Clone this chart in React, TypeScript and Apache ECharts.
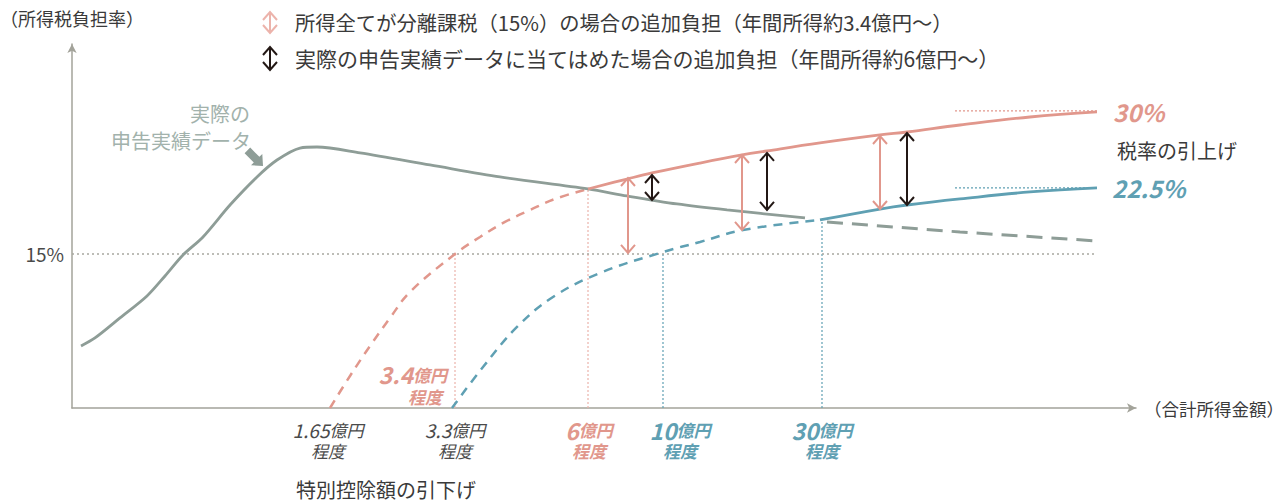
import React, { useEffect, useRef } from "react";
import * as echarts from "echarts";

const FONT = '"Noto Sans CJK JP", "Noto Sans", sans-serif';
const RED = "#e1978c";
const RED_LIGHT = "#ecb3ab";
const BLUE = "#5fa0b3";
const GRAY = "#8e9d97";
const AXIS = "#a3a39a";
const BLACK = "#231815";
const TEXT = "#3a3a3a";

// x: schematic income position (px-like units from origin), y: tax burden (%-like units)
const grayActual: [number, number][] = [
  [9, 6.04], [23, 6.82], [48, 8.77], [75, 10.91], [93, 12.86], [111, 14.9], [131, 16.66],
  [158, 19.77], [185, 22.5], [205, 24.15], [228, 25.32], [245, 25.42], [288, 24.84],
  [358, 23.67], [428, 22.5], [516, 21.33], [555, 20.65], [605, 19.87], [655, 19.29], [733, 18.51],
];
const grayExtrap: [number, number][] = [[755, 18.12], [888, 17.14], [1025, 16.27]];
const redDashed: [number, number][] = [
  [258, 0], [278, 3.12], [298, 6.04], [318, 8.77], [338, 11.3], [383, 15.0],
  [408, 16.66], [433, 18.12], [458, 19.28], [483, 20.36], [516, 21.33],
];
const redSolid: [number, number][] = [
  [516, 21.33], [555, 22.3], [580, 22.89], [628, 23.86], [670, 24.64], [695, 25.03],
  [748, 25.81], [808, 26.59], [835, 26.88], [888, 27.56], [958, 28.34], [1025, 28.83],
];
const blueDashed: [number, number][] = [
  [380, 0], [411, 3.99], [445, 7.89], [481, 10.81], [528, 13.15], [591, 15.19],
  [628, 16.17], [671, 17.34], [748, 18.31],
];
const blueSolid: [number, number][] = [
  [748, 18.31], [808, 19.38], [835, 19.77], [888, 20.36], [958, 21.04], [1025, 21.43],
];
const refLine15: [number, number][] = [[0, 15], [1025, 15]];
const refRed30: [number, number][] = [[883, 28.93], [1025, 28.93]];
const refBlue225: [number, number][] = [[883, 21.43], [1025, 21.43]];

// vertical guides: [x, top, colorIndex 0=red 1=blue]
const guides: [number, number, number][] = [
  [383, 15.0, 0], [516, 21.33, 0], [591, 15.19, 1], [750, 18.31, 1],
];
// double arrows: [x, top, bottom, colorIndex 0=red 1=black]
const arrows: [number, number, number, number][] = [
  [556, 22.4, 15.1, 0], [670, 24.64, 17.34, 0], [808, 26.49, 19.38, 0],
  [580, 22.69, 20.26, 1], [695, 24.84, 19.29, 1], [835, 26.78, 19.77, 1],
];

const xLabelPos = [256, 383, 517, 608, 750];
const xLabelNum = ["1.65", "3.3", "6", "10", "30"];
const xLabelColor = ["g", "g", "r", "b", "b"];

const yTick = 15;

function arrowGroup(x: number, y1: number, y2: number, color: string, lw: number) {
  const hw = 7, hh = 8;
  return {
    type: "group",
    children: [
      { type: "line", shape: { x1: x, y1: y1, x2: x, y2: y2 }, style: { stroke: color, lineWidth: lw } },
      { type: "polyline", shape: { points: [[x - hw, y1 + hh], [x, y1], [x + hw, y1 + hh]] }, style: { stroke: color, lineWidth: lw, fill: null } },
      { type: "polyline", shape: { points: [[x - hw, y2 - hh], [x, y2], [x + hw, y2 - hh]] }, style: { stroke: color, lineWidth: lw, fill: null } },
    ],
  };
}

function txt(text: string, x: number, y: number, size: number, fill: string, align = "left", extra: any = {}) {
  return {
    type: "text",
    x,
    y,
    style: {
      text,
      fill,
      font: `${extra.fontStyle || "normal"} ${extra.fontWeight || "normal"} ${size}px ${FONT}`,
      fontSize: size,
      fontFamily: FONT,
      align,
      textAlign: align,
      verticalAlign: "middle",
      textVerticalAlign: "middle",
      ...extra,
    },
  };
}

export default function App() {
  const ref = useRef<HTMLDivElement>(null);
  useEffect(() => {
    if (!ref.current) return;
    const chart = echarts.init(ref.current, undefined, { renderer: "svg" });

    const lineSeries = (data: [number, number][], color: string, width: number, type: any, smooth: number | boolean = 0.4) => ({
      type: "line",
      data,
      smooth,
      symbol: "none",
      silent: true,
      lineStyle: { color, width, type },
      z: 3,
    });

    const option: any = {
      animation: false,
      textStyle: { fontFamily: FONT },
      grid: { left: 72, right: 151, top: 44, bottom: 96, containLabel: false },
      xAxis: {
        type: "value",
        min: 0,
        max: 1064,
        splitLine: { show: false },
        axisTick: { show: false },
        axisLine: { show: true, lineStyle: { color: AXIS, width: 1.5 }, symbol: ["none", "arrow"], symbolSize: [7, 9] },
        axisLabel: {
          customValues: xLabelPos,
          margin: 10,
          hideOverlap: false,
          formatter: (v: number) => {
            const i = xLabelPos.indexOf(v);
            if (i < 0) return "";
            const c = xLabelColor[i];
            return `{n${c}|${xLabelNum[i]}}{k${c}|億円}\n{p${c}|程度}`;
          },
          rich: {
            ng: { fontSize: 19, fontStyle: "italic", color: "#4a4a4a", fontFamily: FONT, lineHeight: 23 },
            kg: { fontSize: 17, fontStyle: "italic", color: "#4a4a4a", fontFamily: FONT, lineHeight: 23 },
            pg: { fontSize: 17, fontStyle: "italic", color: "#4a4a4a", fontFamily: FONT, lineHeight: 19 },
            nr: { fontSize: 23, fontStyle: "italic", fontWeight: "bold", color: RED, fontFamily: FONT, lineHeight: 23 },
            kr: { fontSize: 17, fontStyle: "italic", fontWeight: "bold", color: RED, fontFamily: FONT, lineHeight: 23 },
            pr: { fontSize: 17, fontStyle: "italic", fontWeight: "bold", color: RED, fontFamily: FONT, lineHeight: 19 },
            nb: { fontSize: 23, fontStyle: "italic", fontWeight: "bold", color: BLUE, fontFamily: FONT, lineHeight: 23 },
            kb: { fontSize: 17, fontStyle: "italic", fontWeight: "bold", color: BLUE, fontFamily: FONT, lineHeight: 23 },
            pb: { fontSize: 17, fontStyle: "italic", fontWeight: "bold", color: BLUE, fontFamily: FONT, lineHeight: 19 },
          },
        },
      },
      yAxis: {
        type: "value",
        min: 0,
        max: 35.45,
        interval: yTick,
        splitLine: { show: false },
        axisTick: { show: false },
        axisLine: { show: true, lineStyle: { color: AXIS, width: 1.5 }, symbol: ["none", "arrow"], symbolSize: [7, 9] },
        axisLabel: {
          margin: 8,
          fontSize: 19,
          color: "#4a4a4a",
          fontFamily: FONT,
          formatter: (v: number) => (v === yTick ? "15%" : ""),
        },
      },
      series: [
        lineSeries(refLine15, "#a8a8a0", 1.5, [2, 3], false),
        lineSeries(refRed30, RED, 1.2, [2, 2], false),
        lineSeries(refBlue225, BLUE, 1.2, [2, 2], false),
        {
          type: "custom",
          silent: true,
          z: 2,
          data: guides,
          renderItem: (params: any, api: any) => {
            const x = api.value(0);
            const top = api.value(1);
            const ci = api.value(2);
            const p0 = api.coord([x, 0]);
            const p1 = api.coord([x, top]);
            return {
              type: "line",
              shape: { x1: p0[0], y1: p0[1], x2: p1[0], y2: p1[1] },
              style: { stroke: ci === 0 ? RED_LIGHT : BLUE, lineWidth: 1.2, lineDash: [2, 2] },
            };
          },
        },
        lineSeries(grayExtrap, GRAY, 3, [16, 9], false),
        lineSeries(redDashed, RED, 2.5, [9, 7]),
        lineSeries(blueDashed, BLUE, 2.5, [9, 7]),
        lineSeries(grayActual, GRAY, 2.8, "solid", 0.3),
        lineSeries(redSolid, RED, 2.8, "solid"),
        lineSeries(blueSolid, BLUE, 2.8, "solid"),
        {
          type: "custom",
          silent: true,
          z: 5,
          data: arrows,
          renderItem: (params: any, api: any) => {
            const x = api.value(0);
            const pt = api.coord([x, api.value(1)]);
            const pb = api.coord([x, api.value(2)]);
            const color = api.value(3) === 0 ? RED : BLACK;
            return arrowGroup(pt[0], pt[1], pb[1], color, 2);
          },
        },
      ],
      graphic: [
        txt("（所得税負担率）", 0, 18, 18, TEXT),
        arrowGroup(270, 12, 33, RED_LIGHT, 2),
        arrowGroup(270, 47, 70, BLACK, 2),
        txt("所得全てが分離課税（15%）の場合の追加負担（年間所得約3.4億円〜）", 295, 22, 20.3, TEXT),
        txt("実際の申告実績データに当てはめた場合の追加負担（年間所得約6億円〜）", 295, 58, 21, TEXT),
        txt("実際の", 250, 113, 20, "#a2b2ac", "right"),
        txt("申告実績データ", 251, 140, 20, "#a2b2ac", "right"),
        {
          type: "polygon",
          shape: {
            points: [
              [244.6, 153.2], [253.8, 162.4], [251.0, 165.3], [263, 166],
              [262.3, 153.9], [259.4, 156.8], [250.2, 147.6],
            ],
          },
          style: { fill: GRAY },
        },
        {
          type: "text",
          x: 447,
          y: 374,
          style: {
            text: "{n|3.4}{k|億円}",
            align: "right",
            textAlign: "right",
            verticalAlign: "middle",
            textVerticalAlign: "middle",
            rich: {
              n: { fontSize: 23, fontStyle: "italic", fontWeight: "bold", fill: RED, color: RED, fontFamily: FONT },
              k: { fontSize: 17, fontStyle: "italic", fontWeight: "bold", fill: RED, color: RED, fontFamily: FONT },
            },
          },
        },
        txt("程度", 442, 396, 17, RED, "right", { fontStyle: "italic", fontWeight: "bold" }),
        txt("30%", 1113, 111, 24, RED, "left", { fontStyle: "italic", fontWeight: "bold" }),
        txt("税率の引上げ", 1117, 150, 20, TEXT),
        txt("22.5%", 1112, 187, 24, BLUE, "left", { fontStyle: "italic", fontWeight: "bold" }),
        txt("（合計所得金額）", 1144, 408, 17.5, TEXT),
        txt("特別控除額の引下げ", 296, 489, 20, TEXT),
      ],
    };

    chart.setOption(option);
    return () => chart.dispose();
  }, []);

  return (
    <div
      ref={ref}
      style={{ position: "fixed", left: 0, top: 0, width: 1287, height: 504, background: "#fff" }}
    />
  );
}
